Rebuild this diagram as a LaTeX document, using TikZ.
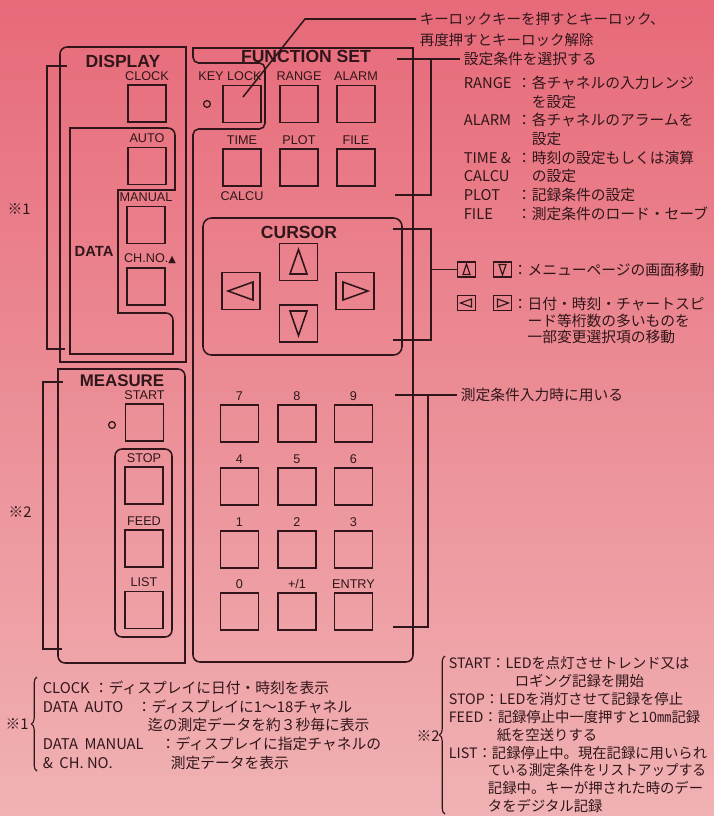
\documentclass[tikz,border=0pt]{standalone}
\usepackage{fontspec}
\usepackage{graphicx}
\setmainfont{Liberation Sans}
\newfontfamily\jp{Noto Sans CJK JP}
\newfontfamily\sym{DejaVu Sans}
\usetikzlibrary{calc,positioning,decorations.pathreplacing}
\definecolor{ink}{RGB}{48,22,26}
\definecolor{pinktop}{RGB}{231,106,121}
\definecolor{pinkbot}{RGB}{240,178,180}
\def\lab#1{\makebox[1.33cm][l]{#1}}
\def\jfont#1#2{\jp\fontsize{#1}{#2}\selectfont}
\def\pmtxt{+/1}

\begin{document}
\begin{tikzpicture}[x=0.025cm, y=-0.025cm, color=ink, line width=1.1pt,
	btn/.style={draw, minimum width=0.95cm, minimum height=0.93cm, inner sep=0pt},
	lbl/.style={inner sep=0.5pt, font=\fontsize{9}{9}\selectfont},
	hdr/.style={inner sep=0pt, font=\bfseries\fontsize{12.5}{12.5}\selectfont},
	note/.style={inner sep=0pt, align=left, font=\jfont{10.5}{13.25}},
	led/.style={draw, circle, line width=0.9pt, minimum size=0.17cm, inner sep=0pt},
	icon/.style={draw, line width=0.9pt, minimum width=0.44cm, minimum height=0.38cm, inner sep=0pt},
	bracebar/.style={line width=0.8pt, decorate, decoration={brace, amplitude=4pt}}]
		%%%%% START %%%%%
		\useasboundingbox (0,0) rectangle (714,816);
		\shade[top color=pinktop, bottom color=pinkbot] (0,0) rectangle (714,816);
		
		% panel outlines
		\draw (60,362) -- (60,200) [rounded corners=5pt] -- (60,47) -- (120,47) [sharp corners] -- (186,47) -- (186,362) -- cycle;
		\draw (70,128) -- (140,128) [rounded corners=5pt] -- (175,128) -- (175,160) [sharp corners] -- (175,190) -- (118,190) -- (118,313) -- (140,313) [rounded corners=5pt] -- (173,313) -- (173,330) [sharp corners] -- (173,354) -- (70,354) -- cycle;
		\draw (58,369) -- (120,369) [rounded corners=5pt] -- (185,369) -- (185,420) [sharp corners] -- (185,663) -- (120,663) [rounded corners=5pt] -- (58,663) -- (58,600) [sharp corners] -- cycle;
		\draw[rounded corners=5pt] (115,449) rectangle (172,637);
		\draw (193,400) [rounded corners=5pt] -- (193,662) -- (413,662) -- (413,400) [sharp corners] -- (413,48) -- (193,48) -- (193,55) [rounded corners=4pt] -- (193,63) -- (265,63) -- (265,129) -- (193,129) -- cycle;
		\draw[rounded corners=6pt] (203,218) rectangle (402,355);
		
		\node[hdr] (display) at (123,61) {DISPLAY};
		\node[hdr] (fnset) at (306,56) {FUNCTION SET};
		\node[hdr] (cursor) at (299,232) {CURSOR};
		\node[hdr, font=\bfseries\fontsize{12}{12}\selectfont] (measure) at (122,380.5) {MEASURE};
		\node[hdr, font=\bfseries\fontsize{10.5}{10.5}\selectfont] (data) at (94,251) {DATA};
		
		% keys
		\foreach \nm/\px/\py/\tx in {dclock/147/103.5/CLOCK, dauto/147/166/AUTO, dmanual/146/225/MANUAL,
			mstart/144.5/422.5/START, mstop/144/485.5/STOP, mfeed/144/548.5/FEED, mlist/144/610/LIST,
			frange/299/104/RANGE, falarm/356/104/ALARM, ftime/242/167.5/TIME, fplot/299/167.5/PLOT, ffile/356/167.5/FILE,
			k7/239.5/423.5/7, k8/297/423.5/8, k9/353.5/423.5/9, k4/239.5/486.5/4, k5/297/486.5/5, k6/353.5/486.5/6,
			k1/239.5/549.5/1, k2/297/549.5/2, k3/353.5/549.5/3, k0/239.5/611.5/0, kpm/297/611.5/\pmtxt, kent/353.5/611.5/ENTRY}{
			\node[btn] (\nm) at (\px,\py) {};
			\node[lbl, above=1.6pt of \nm] (\nm-l) {\tx};
		}
		\node[btn] (fkey) at (242,104) {};
		\node[lbl, above=1.6pt of fkey, xshift=-0.3cm] (fkey-l) {KEY LOCK};
		\node[btn] (dchno) at (146,286.5) {};
		\node[lbl, above=1.6pt of dchno, xshift=0.1cm] (dchno-l) {CH.NO.{\sym\fontsize{7}{7}\selectfont ▲}};
		\node[lbl, below=2pt of ftime] (fcalcu) {CALCU};
		\node[led] (kled) at (207,104) {};
		\node[led] (sled) at (112,425) {};
		
		% cursor keys
		\node[btn] (cup) at (298.5,262) {};
		\node[btn] (cleft) at (241,291) {};
		\node[btn] (cright) at (355,291) {};
		\node[btn] (cdown) at (298.5,323.5) {};
		\draw ($(cup)+(0,-12.5)$) -- ($(cup)+(-8.5,12)$) -- ($(cup)+(8.5,12)$) -- cycle;
		\draw ($(cdown)+(0,12)$) -- ($(cdown)+(-8.5,-12.5)$) -- ($(cdown)+(8.5,-12.5)$) -- cycle;
		\draw ($(cleft)+(-13,0)$) -- ($(cleft)+(12,-9)$) -- ($(cleft)+(12,9)$) -- cycle;
		\draw ($(cright)+(13,0)$) -- ($(cright)+(-12,-9)$) -- ($(cright)+(-12,9)$) -- cycle;
		
		% left marks
		\coordinate (d1) at (67,66);
		\coordinate (d2) at (65,349);
		\draw (d1) -- (47,66) -- (47,349) -- (d2);
		\node[note] (mk1) at (19,209) {※1};
		\coordinate (m1) at (63,382);
		\coordinate (m2) at (62,649);
		\draw (m1) -- (43,382) -- (43,649) -- (m2);
		\node[note] (mk2) at (20,512) {※2};
		
		% right notes
		\coordinate (klend) at (243,97);
		\coordinate (klbend) at (305,19);
		\node[note, font=\jfont{10.3}{13}, anchor=west] (klnote) at (419,19) {キーロックキーを押すとキーロック、};
		\node[note, font=\jfont{10.3}{13}, anchor=west] (klnote2) at (419,40) {再度押すとキーロック解除};
		\draw[shorten >=2pt] (klend) -- (klbend) -- (klnote);
		
		\coordinate (fsstart) at (397,59);
		\coordinate (fsbar) at (431,59);
		\coordinate (fsend) at (395,195);
		\node[note, anchor=west] (fsnote) at (463,59) {設定条件を選択する};
		\draw[shorten >=2pt] (fsstart) -- (fsnote);
		\draw (fsbar) -- (431,195) -- (fsend);
		\node[note, anchor=north west] (fnlist) at (463,75.3) {\lab{RANGE}：各チャネルの入力レンジ\\
			\lab{}　を設定\\
			\lab{ALARM}：各チャネルのアラームを\\
			\lab{}　設定\\
			\lab{TIME \&}：時刻の設定もしくは演算\\
			\lab{CALCU}　の設定\\
			\lab{PLOT}：記録条件の設定\\
			\lab{FILE}：測定条件のロード・セーブ};
		
		\node[icon] (iup) at (466.5,269.5) {};
		\node[icon] (idown) at (502.5,269.5) {};
		\node[icon] (ileft) at (466.5,303) {};
		\node[icon] (iright) at (502.5,303) {};
		\draw[line width=0.8pt] ($(iup)+(0,-5.5)$) -- ($(iup)+(-3.5,5)$) -- ($(iup)+(3.5,5)$) -- cycle;
		\draw[line width=0.8pt] ($(idown)+(0,5.5)$) -- ($(idown)+(-3.5,-5)$) -- ($(idown)+(3.5,-5)$) -- cycle;
		\draw[line width=0.8pt] ($(ileft)+(-6,0)$) -- ($(ileft)+(5,-4)$) -- ($(ileft)+(5,4)$) -- cycle;
		\draw[line width=0.8pt] ($(iright)+(6,0)$) -- ($(iright)+(-5,-4)$) -- ($(iright)+(-5,4)$) -- cycle;
		\node[note, anchor=west] (cunote) at (512,269.5) {：メニューページの画面移動};
		\node[note, anchor=north west, font=\jfont{10.5}{11.8}] (cunote2) at (512,296.3) {：日付・時刻・チャートスピ\\
			　ード等桁数の多いものを\\
			　一部変更選択項の移動};
		\coordinate (cutop) at (393,229);
		\coordinate (cubot) at (393,340);
		\coordinate (cumid) at (431,269.5);
		\draw (cutop) -- (431,229) -- (431,340) -- (cubot);
		\draw (cumid) -- (iup);
		
		\coordinate (kptop) at (395,395);
		\coordinate (kpbot) at (393,627);
		\node[note, anchor=west] (kpnote) at (460,395) {測定条件入力時に用いる};
		\draw[shorten >=2pt] (kptop) -- (kpnote);
		\draw (428,395) -- (428,627) -- (kpbot);
		
		% bottom notes
		\node[note] (mk1b) at (17,724) {※1};
		\draw[bracebar] (37,771) -- (37,677);
		\node[note, anchor=north west, font=\jfont{10.5}{13.3}] (note1) at (42,680) {\makebox[1.28cm][l]{CLOCK}：ディスプレイに日付・時刻を表示\\
			\makebox[2.35cm][l]{DATA\ \ AUTO}：ディスプレイに1～18チャネル\\
			\hspace*{2.63cm}迄の測定データを約３秒毎に表示\\
			\makebox[2.95cm][l]{DATA\ \ MANUAL}：ディスプレイに指定チャネルの\\
			\makebox[3.2cm][l]{\&\ \ CH. NO.}測定データを表示};
		
		\node[note] (mk2b) at (428,736) {※2};
		\draw[bracebar] (445,814) -- (445,656);
		\node[note, anchor=north west, font=\jfont{10.2}{12.7}] (note2) at (448,656) {START：LEDを点灯させトレンド又は\\
			\hspace*{1.65cm}ロギング記録を開始\\
			STOP：LEDを消灯させて記録を停止\\
			FEED：記録停止中一度押すと10㎜記録\\
			\hspace*{1.2cm}紙を空送りする\\
			LIST：記録停止中。現在記録に用いられ\\
			\hspace*{0.98cm}\scalebox{0.95}[1]{ている測定条件をリストアップする}\\
			\hspace*{0.98cm}記録中。キーが押された時のデー\\
			\hspace*{0.98cm}タをデジタル記録};
		%%%%% END %%%%%
\end{tikzpicture}
\end{document}
